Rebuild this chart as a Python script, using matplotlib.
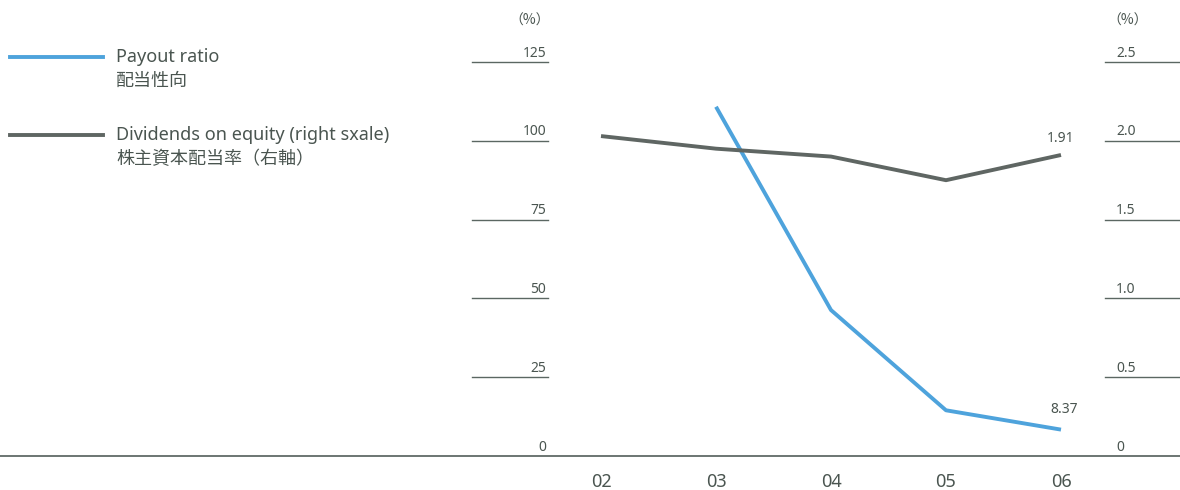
import numpy as np
import matplotlib
matplotlib.use("Agg")
import matplotlib.pyplot as plt
import matplotlib.transforms as mtransforms

years = ["02", "03", "04", "05", "06"]
payout_ratio = [np.nan, 110.8, 46.3, 14.5, 8.37]
dividends_on_equity = [2.03, 1.95, 1.90, 1.75, 1.91]
left_ticks = [0, 25, 50, 75, 100, 125]
left_labels = ["0", "25", "50", "75", "100", "125"]
right_ticks = [0, 0.5, 1.0, 1.5, 2.0, 2.5]
right_labels = ["0", "0.5", "1.0", "1.5", "2.0", "2.5"]

BLUE = "#4ea3dc"
GRAY = "#5f6663"
TXT = "#4a5550"
TICK = "#5b6762"
CJK = ['Noto Sans CJK JP', 'DejaVu Sans']

plt.rcParams['font.family'] = ['Noto Sans', 'Noto Sans CJK JP', 'DejaVu Sans']
W, H = 1180, 490
fig = plt.figure(figsize=(W / 100, H / 100), dpi=100)
ax = fig.add_axes([0, 0, 1, 1])
ax.set_axis_off()

px_per_x = 115.0
x0_px = 601.0
ax.set_xlim(-x0_px / px_per_x, (W - x0_px) / px_per_x)
y0_px = 456.0
px_per_y = 394.0 / 125.0
ybot = -(H - y0_px) / px_per_y
ytop = 125 + 62.0 / px_per_y
ax.set_ylim(ybot, ytop)

ax2 = ax.twinx()
ax2.set_axis_off()
ax2.set_ylim(ybot / 50.0, ytop / 50.0)
ax2.set_xlim(ax.get_xlim())

x = np.arange(len(years))

# baseline
ax.axhline(0, color="#6b7572", lw=1.4, zorder=1)

trans = mtransforms.blended_transform_factory(ax.transAxes, ax.transData)
for v, lab in zip(left_ticks, left_labels):
    if v != 0:
        ax.plot([472 / W, 548 / W], [v, v], transform=trans, color=TICK, lw=1.0)
    ax.text(546 / W, v + 1.7, lab, transform=trans, ha="right", va="baseline",
            fontsize=10, color=TXT)
trans2 = mtransforms.blended_transform_factory(ax2.transAxes, ax2.transData)
for v, lab in zip(right_ticks, right_labels):
    if v != 0:
        ax2.plot([1105 / W, 1.0], [v, v], transform=trans2, color=TICK, lw=1.0)
    ax2.text(1116 / W, v + 0.034, lab, transform=trans2, ha="left", va="baseline",
             fontsize=10, color=TXT)

fig.text(530 / W, 1 - 21 / H, "（%）", ha="center", va="center", fontsize=10, color=TXT,
         family=CJK)
fig.text(1128 / W, 1 - 21 / H, "（%）", ha="center", va="center", fontsize=10, color=TXT,
         family=CJK)

# x labels
for xi, lab in zip(x, years):
    ax.text(xi, ybot + 2.6, lab, ha="center", va="center", fontsize=13, color=TXT)

ax2.plot(x, dividends_on_equity, color=GRAY, lw=2.8, solid_capstyle="butt", zorder=3)
ax.plot(x, payout_ratio, color=BLUE, lw=2.8, solid_capstyle="butt", zorder=4)

ax2.text(x[-1], dividends_on_equity[-1] + 0.06, f"{dividends_on_equity[-1]:.2f}",
         ha="center", va="bottom", fontsize=10, color=TXT)
ax.text(x[-1] + 0.03, payout_ratio[-1] + 4.0, f"{payout_ratio[-1]:.2f}",
        ha="center", va="bottom", fontsize=10, color=TXT)

# legend
fig.add_artist(plt.Line2D([10 / W, 103 / W], [1 - 57 / H, 1 - 57 / H], color=BLUE, lw=2.8))
fig.text(116 / W, 1 - 57 / H, "Payout ratio", ha="left", va="center", fontsize=13, color=TXT)
fig.text(116 / W, 1 - 81 / H, "配当性向", ha="left", va="center", fontsize=13, color=TXT,
         family=CJK)
fig.add_artist(plt.Line2D([10 / W, 103 / W], [1 - 135 / H, 1 - 135 / H], color=GRAY, lw=2.8))
fig.text(116 / W, 1 - 135 / H, "Dividends on equity (right sxale)", ha="left", va="center",
         fontsize=13, color=TXT)
fig.text(116 / W, 1 - 159 / H, "株主資本配当率（右軸）", ha="left", va="center", fontsize=13,
         color=TXT, family=CJK)

fig.savefig("out.png", dpi=100)
